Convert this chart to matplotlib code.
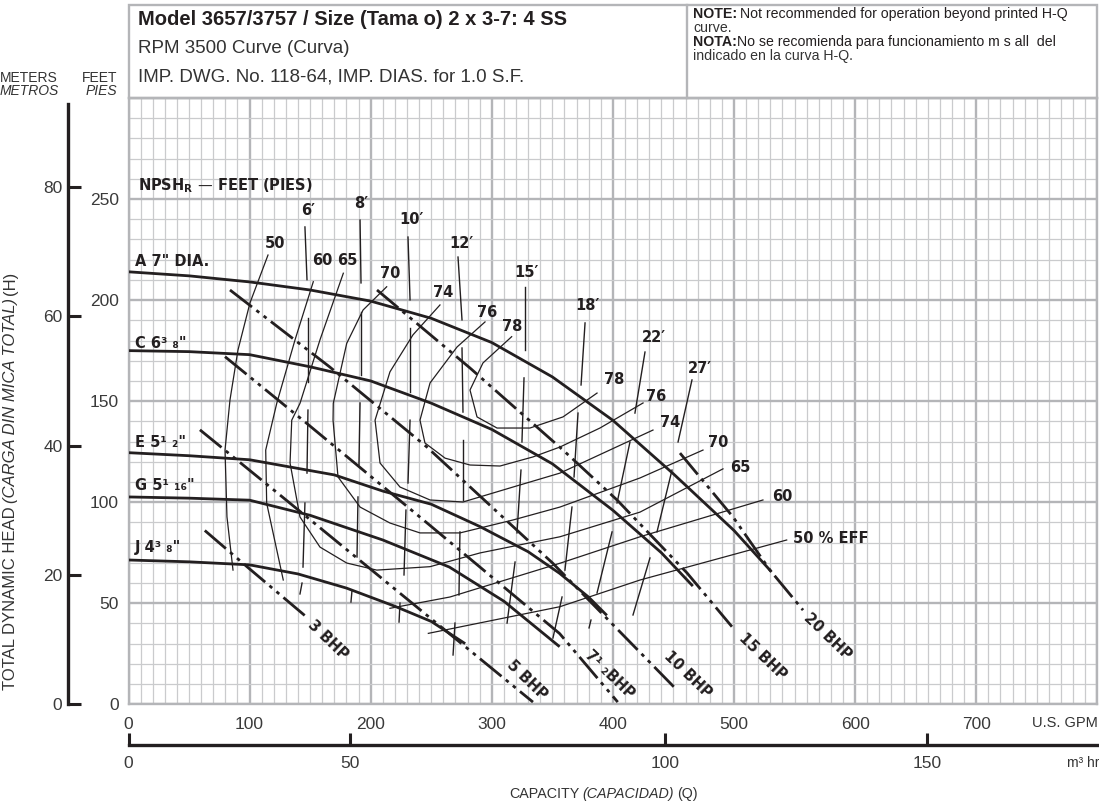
import matplotlib
matplotlib.use("Agg")
import matplotlib.pyplot as plt
from matplotlib.ticker import MultipleLocator
from matplotlib.patches import Rectangle
from matplotlib.lines import Line2D

W, H = 1099, 807
INK = "#231f20"
GREY = "#cacbcd"
GREY_MAJ = "#b4b5b8"
NARROW = ["Liberation Sans", "DejaVu Sans"]
SANS = ["DejaVu Sans"]

plt.rcParams["font.family"] = NARROW
plt.rcParams["text.color"] = INK

# head-capacity curves, US GPM vs feet
a_q = [0, 50, 100, 150, 200, 250, 300, 350, 400, 450, 500, 531]
a_h = [214, 212, 209, 205, 199.5, 191, 179, 162, 140.5, 114, 86, 65.5]
c_q = [0, 50, 100, 150, 200, 250, 300, 350, 400, 440, 466]
c_h = [175, 174.5, 173, 167, 160, 149, 136, 119, 96, 75, 58.5]
e_q = [0, 50, 100, 170, 210, 250, 290, 330, 356, 380, 395]
e_h = [124.5, 123, 121, 113.5, 105.5, 99, 88, 75.5, 64.8, 53, 44]
g_q = [0, 50, 100, 150, 210, 265, 310, 356]
g_h = [102.6, 102, 101, 93.5, 81.3, 67.9, 51, 28.5]
j_q = [0, 50, 100, 140, 180, 220, 250, 278]
j_h = [71.4, 70.5, 69, 64.5, 57.5, 48.5, 41, 30]
dia_labels = ['A 7" DIA.', 'C 6³ ₈"', 'E 5¹ ₂"', 'G 5¹ ₁₆"', 'J 4³ ₈"']
dia_label_h = [219, 178.5, 129.3, 108.5, 77.8]

# brake horsepower lines
bhp3_q, bhp3_h = [63, 98, 148], [86, 68, 42.7]
bhp5_q, bhp5_h = [59, 125, 334], [135.8, 103.6, 1.1]
bhp7_q, bhp7_h = [79.7, 147.2, 250, 356, 404], [172, 139, 88, 35, 1.1]
bhp10_q, bhp10_h = [83.8, 166, 246, 350, 453], [205, 167, 127.5, 70, 7]
bhp15_q = [205.2, 282, 358.8, 403.4, 461.2, 498.3]
bhp15_h = [205, 166.4, 125.8, 101.1, 65, 38.4]
bhp20_q, bhp20_h = [455.4, 499.2, 529.7, 557], [124.3, 92.7, 66.4, 46.6]
bhp_labels = ["3 BHP", "5 BHP", "7¹ ₂BHP", "10 BHP", "15 BHP", "20 BHP"]
bhp_label_q = [165, 329, 397.6, 462, 524, 577]
bhp_label_h = [31.8, 12, 14.6, 14.6, 23.5, 33.4]

# iso-efficiency curves
eff50_l_q = [115.2, 100.3, 90.4, 83.8, 79.7, 81.3, 86.3]
eff50_l_h = [222.3, 198.6, 175.3, 150.6, 125.8, 92.8, 66.4]
eff50_r_q = [247.6, 356.3, 422.4, 543.5]
eff50_r_h = [35.1, 48.3, 61.5, 81.3]
eff60_l_q = [152.6, 137.5, 122.4, 113.3, 114.1, 127.8]
eff60_l_h = [209.1, 180.3, 148.9, 125.8, 99.5, 61.5]
eff60_r_q = [215.9, 265.5, 356.3, 422.4, 523.9]
eff60_r_h = [47.5, 53.1, 69.8, 82.9, 101.1]
eff65_q = [177.4, 158.1, 141.6, 134.8, 133.4, 141.6, 158.1, 180.2, 205, 249, 290.3, 356.3, 422.4, 490.9]
eff65_h = [213.3, 180.3, 148.9, 140.6, 119.4, 92.7, 77.8, 69.9, 66.4, 68.1, 74.9, 82.9, 95.1, 116.5]
eff70_q = [213.2, 193.7, 180.2, 169.1, 168.9, 173, 191.2, 215.9, 240.7, 273.7, 317.5, 356.3, 422.4, 474.4]
eff70_h = [206.6, 195.1, 178.6, 148.9, 140.6, 112.5, 97.6, 89.7, 84.8, 84.8, 91.2, 97.6, 112, 125.8]
eff74_q = [257.2, 234.9, 215.9, 203.6, 207.7, 224.2, 249, 276.2, 317.5, 356.3, 433.1]
eff74_h = [197.6, 182.8, 164.5, 140.6, 119.4, 107.5, 101.1, 100.1, 107.5, 114.4, 135.7]
eff76_q = [294.4, 271.3, 249, 240.7, 244.8, 261.4, 282, 306.8, 334, 356.3, 389.3, 424.9]
eff76_h = [189.2, 176.8, 159, 140.6, 129.3, 121.8, 118.4, 117.9, 122.4, 127.3, 136.7, 149.1]
eff78_q = [316.4, 292.7, 282, 287.8, 304.3, 331.5, 358.8, 386.9]
eff78_h = [181.9, 168.9, 155.5, 142.2, 136.7, 136.7, 142.2, 154]
eff_left_labels = ["50", "60", "65", "70", "74", "76", "78"]
eff_left_q = [121, 160, 180.4, 216, 259.6, 296, 316.7]
eff_left_h = [228, 219.8, 219.8, 213.4, 204, 194, 186.7]
eff_right_labels = ["78", "76", "74", "70", "65", "60"]
eff_right_q = [401, 435.6, 447, 486.9, 505, 539.6]
eff_right_h = [160.5, 152.5, 139.2, 129.3, 117.4, 102.6]

# NPSHr lines, drawn as broken segments (q1, h1, q2, h2)
npsh6 = [(145.7, 236.2, 147.4, 210.1), (148.2, 191.1, 148.2, 159.5), (148.2, 145.6, 147.4, 114.4),
         (145.7, 99.6, 144.1, 67.9), (143.3, 60.0, 141.6, 54.6)]
npsh8 = [(191.2, 239.6, 192.0, 208.5), (191.7, 194.3, 191.7, 162.9), (191.2, 149.1, 190.3, 118.4),
         (189.5, 102.6, 188.7, 72.9), (184.6, 56.6, 183.7, 50.6)]
npsh10 = [(230.8, 231.2, 232.5, 200.1), (232.5, 186.2, 232.5, 154.5), (232.5, 140.6, 230.8, 109.5),
          (229.1, 96.1, 227.5, 64.0), (224.2, 50.1, 223.4, 40.7)]
npsh12 = [(272.1, 221.3, 275.4, 190.2), (275.4, 176.3, 276.2, 144.6), (276.2, 130.8, 276.2, 101.1),
          (273.7, 85.3, 272.9, 54.1), (269.6, 40.2, 268.0, 24.4)]
npsh15 = [(327.4, 206.5, 327.4, 175.3), (326.6, 161.5, 324.9, 129.8), (324.1, 115.9, 320.8, 84.8),
          (319.2, 70.4, 312.6, 40.2)]
npsh18 = [(377.0, 188.7, 373.7, 158.0), (371.2, 144.1, 367.9, 112.5), (366.2, 97.6, 360.4, 66.4),
          (358.0, 53.1, 350.5, 32.8)]
npsh22 = [(426.5, 174.3, 418.2, 144.1), (414.1, 129.8, 403.4, 99.6), (399.3, 85.3, 386.9, 55.1),
          (381.9, 41.7, 380.3, 37.8)]
npsh27 = [(465.3, 160.5, 453.8, 129.8), (448.8, 115.9, 436.4, 85.3), (430.6, 72.4, 416.6, 44.2)]
npsh_labels = ["6′", "8′", "10′", "12′", "15′", "18′", "22′", "27′"]
npsh_label_q = [148.2, 192, 234, 274.6, 329, 379.4, 434, 472]
npsh_label_h = [244.5, 247.6, 240.1, 228, 213.9, 197.1, 181.7, 166.4]

gpm_ticks = [0, 100, 200, 300, 400, 500, 600, 700, 800]
gpm_labels = ["0", "100", "200", "300", "400", "500", "600", "700", ""]
ft_ticks = [0, 50, 100, 150, 200, 250, 300]
ft_labels = ["0", "50", "100", "150", "200", "250", ""]
m_ticks = [0, 20, 40, 60, 80]
m3_ticks = [0, 183, 443, 659.5]   # positions on the GPM scale, as printed
m3_labels = ["0", "50", "100", "150"]


def fx(x):
    return x / W


def fy(y):
    return 1 - y / H


fig = plt.figure(figsize=(W / 100, H / 100), dpi=100)
renderer = fig.canvas.get_renderer()


def text_run(x, y, parts, vertical=False, gap=3, **common):
    # several styles on one line, placed one after the other
    for s, extra in parts:
        kw = dict(common)
        kw.update(extra)
        t = fig.text(fx(x), fy(y), s, rotation=90 if vertical else 0,
                     rotation_mode="anchor", ha="left", va="baseline", **kw)
        bb = t.get_window_extent(renderer)
        if vertical:
            y = H - bb.y1 - gap
        else:
            x = bb.x1 + gap


ax = fig.add_axes([fx(128.5), fy(704.3), (1097.3 - 128.5) / W, (704.3 - 98) / H])
ax.set_xlim(0, 800)
ax.set_ylim(0, 300)
ax.set_xticks(gpm_ticks, gpm_labels)
ax.set_yticks(ft_ticks, ft_labels)
ax.xaxis.set_minor_locator(MultipleLocator(10))
ax.yaxis.set_minor_locator(MultipleLocator(10))
ax.grid(which="minor", color=GREY, lw=0.9)
ax.grid(which="major", color=GREY_MAJ, lw=1.7)
ax.set_axisbelow(True)
ax.tick_params(which="both", length=0)
ax.tick_params(axis="x", pad=9, labelsize=12.5, labelcolor="#3a3a3a")
ax.tick_params(axis="y", pad=7, labelsize=12.5, labelcolor="#3a3a3a")
for s in ax.spines.values():
    s.set_color(GREY_MAJ)
    s.set_linewidth(1.7)

# impeller curves
for q, h in [(a_q, a_h), (c_q, c_h), (e_q, e_h), (g_q, g_h), (j_q, j_h)]:
    ax.plot(q, h, color=INK, lw=2.0, solid_capstyle="butt", zorder=4)
for lab, h in zip(dia_labels, dia_label_h):
    ax.text(5.4, h, lab, family=SANS, fontweight="bold", fontsize=10.5, va="center", zorder=6)
ax.text(8, 256.5, "NPSH$_\\mathregular{R}$ — FEET (PIES)", family=SANS, fontweight="bold",
        fontsize=10.5, va="center", zorder=6)

# horsepower lines
bhp_style = dict(color=INK, lw=2.0, ls=(0, (10, 2, 1.3, 2, 1.3, 2)), zorder=4)
for q, h in [(bhp3_q, bhp3_h), (bhp5_q, bhp5_h), (bhp7_q, bhp7_h),
             (bhp10_q, bhp10_h), (bhp15_q, bhp15_h), (bhp20_q, bhp20_h)]:
    ax.plot(q, h, **bhp_style)
for lab, q, h in zip(bhp_labels, bhp_label_q, bhp_label_h):
    ax.text(q, h, lab, rotation=-44, rotation_mode="anchor", ha="center", va="center",
            family=SANS, fontweight="bold", fontsize=10.5, zorder=6)

# efficiency
for q, h in [(eff50_l_q, eff50_l_h), (eff50_r_q, eff50_r_h), (eff60_l_q, eff60_l_h),
             (eff60_r_q, eff60_r_h), (eff65_q, eff65_h), (eff70_q, eff70_h),
             (eff74_q, eff74_h), (eff76_q, eff76_h), (eff78_q, eff78_h)]:
    ax.plot(q, h, color=INK, lw=0.9, zorder=3)
for lab, q, h in zip(eff_left_labels, eff_left_q, eff_left_h):
    ax.text(q, h, lab, ha="center", va="center", family=SANS, fontweight="bold", fontsize=10.5, zorder=6)
for lab, q, h in zip(eff_right_labels, eff_right_q, eff_right_h):
    ax.text(q, h, lab, ha="center", va="center", family=SANS, fontweight="bold", fontsize=10.5, zorder=6)
ax.text(548.7, 82, "50 % EFF", ha="left", va="center", family=SANS, fontweight="bold",
        fontsize=10.5, zorder=6)

# NPSHr
for segs in [npsh6, npsh8, npsh10, npsh12, npsh15, npsh18, npsh22, npsh27]:
    for q1, h1, q2, h2 in segs:
        ax.plot([q1, q2], [h1, h2], color=INK, lw=1.0, zorder=3)
for lab, q, h in zip(npsh_labels, npsh_label_q, npsh_label_h):
    ax.text(q, h, lab, ha="center", va="center", family=SANS, fontweight="bold", fontsize=10.5, zorder=6)

# metres scale on the left
ax_m = fig.add_axes([fx(68), fy(704.3), 0.0001, (704.3 - 104) / H])
ax_m.set_ylim(0, (704.3 - 104) / 6.466)
ax_m.set_yticks(m_ticks)
ax_m.set_xticks([])
ax_m.patch.set_visible(False)
for k in ["top", "right", "bottom"]:
    ax_m.spines[k].set_visible(False)
ax_m.spines["left"].set_color(INK)
ax_m.spines["left"].set_linewidth(2.4)
ax_m.tick_params(axis="y", direction="in", length=9, width=2.2, color=INK,
                 labelsize=12.5, pad=4, labelcolor="#3a3a3a")

# m3/hr scale below
ax_b = fig.add_axes([fx(128.5), fy(745), (1097.3 - 128.5) / W, 0.0001])
ax_b.set_xlim(0, 800)
ax_b.set_xticks(m3_ticks, m3_labels)
ax_b.set_yticks([])
ax_b.patch.set_visible(False)
for k in ["top", "right", "left"]:
    ax_b.spines[k].set_visible(False)
ax_b.spines["bottom"].set_color(INK)
ax_b.spines["bottom"].set_linewidth(2.4)
ax_b.tick_params(axis="x", direction="in", length=9, width=2.2, color=INK,
                 labelsize=12.5, pad=8, labelcolor="#3a3a3a")

# header block
fig.add_artist(Rectangle((fx(128.5), fy(98)), (1097.3 - 128.5) / W, (98 - 5) / H,
                         transform=fig.transFigure, fill=False, ec=GREY_MAJ, lw=1.7))
fig.add_artist(Line2D([fx(686.5), fx(686.5)], [fy(5), fy(98)], transform=fig.transFigure,
                      color=GREY_MAJ, lw=1.7))
fig.text(fx(138), fy(25), "Model 3657/3757 / Size (Tama o) 2 x 3-7: 4 SS",
         fontsize=14.5, fontweight="bold")
fig.text(fx(138), fy(53), "RPM 3500 Curve (Curva)", fontsize=13.5, color="#333")
fig.text(fx(138), fy(81), "IMP. DWG. No. 118-64, IMP. DIAS. for 1.0 S.F.", fontsize=13.5, color="#333")

text_run(693, 18, [("NOTE:", dict(fontweight="bold")),
                   ("Not recommended for operation beyond printed H-Q", {})], fontsize=10.2, gap=3)
fig.text(fx(693), fy(32), "curve.", fontsize=10.2, color="#333")
text_run(693, 46, [("NOTA:", dict(fontweight="bold")),
                   ("No se recomienda para funcionamiento m s all  del", {})], fontsize=10.2, gap=0)
fig.text(fx(693), fy(60), "indicado en la curva H-Q.", fontsize=10.2, color="#333")

# axis titles
fig.text(fx(29), fy(82), "METERS", fontsize=10, ha="center", color="#333")
fig.text(fx(29), fy(95), "METROS", fontsize=10, ha="center", style="italic", color="#333")
fig.text(fx(117), fy(82), "FEET", fontsize=10, ha="right", color="#333")
fig.text(fx(117), fy(95), "PIES", fontsize=10, ha="right", style="italic", color="#333")

text_run(15, 690, [("TOTAL DYNAMIC HEAD", {}), ("(CARGA DIN MICA TOTAL)", dict(style="italic")),
                   ("(H)", {})], vertical=True, gap=3, fontsize=12, color="#333")
text_run(509, 798, [("CAPACITY", {}), ("(CAPACIDAD)", dict(style="italic")), ("(Q)", {})],
         gap=3, fontsize=10.3, color="#333")
fig.text(fx(1098), fy(727), "U.S. GPM", fontsize=10.5, ha="right", color="#333")
fig.text(fx(1067), fy(767), "m³ hr", fontsize=10, ha="left", color="#333")

fig.savefig("out.png", dpi=100)
